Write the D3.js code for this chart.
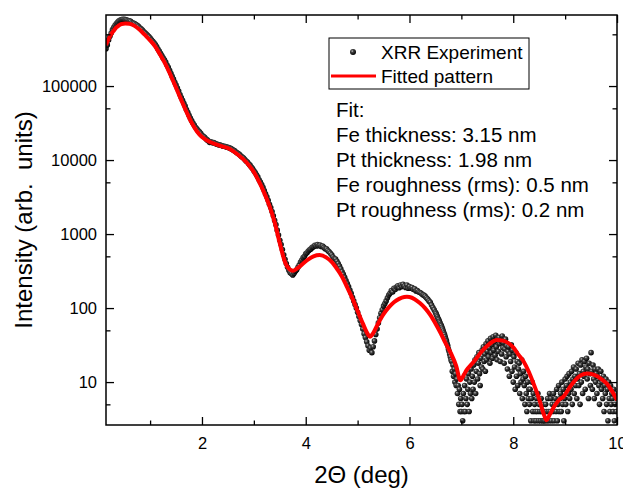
<!DOCTYPE html>
<html lang="en">
<meta charset="utf-8">
<head>
<script src="https://d3js.org/d3.v7.min.js"></script>
<style>
  body { margin: 0; background: #fff; }
  svg text { font-family: "Liberation Sans", Arial, sans-serif; fill: #000; }
</style>
</head>
<body>
<svg id="chart" width="623" height="488"></svg>
<script>
// fitted pattern (2theta in deg, intensity)
var fitX = [0.15,0.2,0.25,0.3,0.35,0.4,0.45,0.52,0.6,0.7,0.8,0.9,1.0,1.1,1.2,1.3,1.4,1.5,1.6,1.7,1.8,1.9,2.0,
  2.1,2.2,2.3,2.4,2.5,2.6,2.7,2.8,2.9,3.0,3.1,3.2,3.3,3.4,3.5,3.6,3.7,3.76,3.85,3.95,4.05,4.15,4.27,4.4,4.5,
  4.6,4.7,4.8,4.9,5.0,5.1,5.2,5.24,5.3,5.4,5.5,5.6,5.7,5.8,5.9,5.95,6.0,6.1,6.2,6.3,6.4,6.5,6.6,6.7,6.8,6.9,
  6.98,7.05,7.1,7.2,7.3,7.4,7.5,7.6,7.68,7.8,7.9,8.0,8.1,8.2,8.3,8.39,8.5,8.6,8.64,8.7,8.8,8.9,8.96,9.1,9.2,
  9.3,9.42,9.55,9.7,9.8,9.9,10.0];
var fitY = [360000,430000,500000,560000,620000,660000,690000,700000,695000,650000,575000,490000,415000,
  340000,260000,195000,138000,95000,65000,45000,32000,24500,20500,18400,17000,16000,15200,14500,13200,11700,
  10200,8600,6900,5100,3600,2400,1450,750,420,330,320,350,400,455,500,520,480,420,340,265,190,135,91,62,44,
  41,46,63,83,102,120,133,141,142,141,132,117,100,81,62,46,33,24.5,16.6,10.6,12.6,14.5,17.5,21.4,26.3,30.9,
  35.1,37,36.3,33.9,29.5,23.5,19,13.8,9.6,5.9,3.5,3.06,3.6,4.8,5.9,6.3,8.7,10.7,12.3,13.1,12.6,11,9.6,7.6,5.7];

// XRR experiment, coarse scan: one reading every 0.025 deg from 0.15 to 6.5 deg
var scan1Start = 0.15, scan1Step = 0.025;
var scan1Y = [
  320000,360000,420000,470000,520000,580000,620000,660000,700000,730000,
  760000,780000,790000,800000,800000,790000,780000,770000,760000,750000,
  718000,708000,698000,679000,664000,640000,611000,592000,572000,543000,
  524000,504000,485000,466000,446000,
  422000,403000,384000,365000,341000,317000,298000,278000,259000,240000,
  226000,211000,192000,179000,163000,149000,135000,124000,112000,103000,
  94000,85400,76800,70000,64300,58600,53800,48000,44200,40300,
  37000,34100,31700,29800,27800,26400,25000,24000,23000,21600,
  20950,20370,19400,18720,18040,17270,17650,17070,17270,16880,
  16490,16300,16100,15910,15710,15520,15330,15230,15040,14840,
  14650,14360,14070,13680,13390,12900,12510,12220,11830,11350,
  10960,10670,10190,9700,9410,8920,8540,8050,7660,7180,
  6790,6300,5920,5430,5040,4660,4270,3880,3490,3200,
  2860,2520,2280,2010,1770,1530,1340,1130,970,825,
  720,620,525,455,400,355,325,300,290,280,
  295,315,
  330,355,380,420,445,480,500,540,560,590,
  615,630,660,675,705,690,720,695,710,680,
  690,660,635,630,600,575,550,525,490,465,
  460,430,400,370,340,310,285,260,235,215,
  195,175,158,140,125,112,100,88,77,68,
  60,52,45,40,35,31,27,29,25,30,
  36,44,52,63,74,85,95,107,
  115,125,138,150,158,172,165,185,178,192,
  200,188,205,195,210,198,190,205,185,195,
  185,190,178,182,170,172,165,162,158,152,
  150,145,138,132,125,120,110,102,95,88];

// fine scan of the low-count tail: one reading every 0.0125 deg from 6.5125 to 10 deg
var scan2Start = 6.5125, scan2Step = 0.0125;
var scan2Y = [
  84,80,76,72,70,66,63,60,
  58,55,52,49,46,44,41,38,
  36,33,31,28,26,24,22,20,
  19,14,17,12,15,10,13,9,
  11,7,9,5,8,4,6,4,
  5,3,7,4,9,4,6,11,
  5,8,13,4,10,7,15,6,
  12,8,17,10,20,7,14,22,
  11,18,25,13,9,21,16,27,
  15,30,19,24,14,33,20,26,
  36,22,29,18,39,25,32,21,
  41,27,35,23,43,30,20,38,
  26,40,33,19,36,24,42,29,
  34,18,28,38,22,31,15,26,
  30,12,24,19,32,14,27,10,
  22,16,8,25,12,19,9,15,
  18,7,13,10,20,6,11,14,
  9,5,12,7,4,10,6,8,
  5,8,3,6,10,4,7,3,
  5,4,3,6,4,7,3,5,
  4,3,6,4,3,5,3,4,
  3,5,4,3,6,4,3,7,
  4,6,3,5,4,7,3,5,
  6,4,8,3,5,9,4,6,
  7,4,10,5,8,3,6,11,
  5,9,12,4,7,13,6,10,
  8,14,5,11,16,7,12,9,
  15,6,11,18,9,13,5,17,
  10,20,7,14,12,19,8,16,
  21,11,15,6,18,13,9,25,
  14,8,17,11,6,15,10,13,
  7,12,15,9,5,11,14,8,
  10,6,12,4,9,7,11,5,
  8,3,10,6,4,9,5,7,
  6,4,8,3,5,7,4,6];

var xMajor = [2, 4, 6, 8, 10], xMinor = [1, 3, 5, 7, 9];
var yMajor = [10, 100, 1000, 10000, 100000], yMinor = [5, 50, 500, 5000, 50000, 500000];
var legendLabels = ["XRR Experiment", "Fitted pattern"];
var fitNotes = ["Fit:", "Fe thickness: 3.15 nm", "Pt thickness: 1.98 nm",
  "Fe roughness (rms): 0.5 nm", "Pt roughness (rms): 0.2 nm"];

var svg = d3.select("#chart"),
  margin = {top: 15, right: 6, bottom: 63, left: 106},
  width = 623 - margin.left - margin.right,
  height = 488 - margin.top - margin.bottom;

var defs = svg.append("defs");
var grad = defs.append("radialGradient").attr("id", "ball")
  .attr("cx", "38%").attr("cy", "35%").attr("r", "65%");
grad.append("stop").attr("offset", "0%").attr("stop-color", "#c8c8c8");
grad.append("stop").attr("offset", "32%").attr("stop-color", "#444");
grad.append("stop").attr("offset", "100%").attr("stop-color", "#000");
defs.append("clipPath").attr("id", "plotclip").append("rect")
  .attr("width", width).attr("height", height);

var g = svg.append("g").attr("transform", "translate(" + margin.left + "," + margin.top + ")");

var x = d3.scaleLinear().domain([0.15, 10]).range([0, width]);
var y = d3.scaleLog().domain([Math.pow(10, 0.42), Math.pow(10, 5.96)]).range([height, 0]);

var expData = scan1Y.map(function(v, i) { return {x: scan1Start + i * scan1Step, y: v}; })
  .concat(scan2Y.map(function(v, i) { return {x: scan2Start + i * scan2Step, y: v}; }));
var fitData = fitX.map(function(v, i) { return {x: v, y: fitY[i]}; });

var plot = g.append("g").attr("clip-path", "url(#plotclip)");

plot.selectAll("circle.exp")
  .data(expData)
  .enter()
  .append("circle")
    .attr("class", "exp")
    .attr("cx", function(d) { return x(d.x); })
    .attr("cy", function(d) { return y(d.y); })
    .attr("r", 2.8)
    .attr("fill", "url(#ball)");

var line = d3.line()
  .x(function(d) { return x(d.x); })
  .y(function(d) { return y(d.y); })
  .curve(d3.curveMonotoneX);

plot.append("path")
  .datum(fitData)
  .attr("d", line)
  .attr("fill", "none")
  .attr("stroke", "#ff0000")
  .attr("stroke-width", 4)
  .attr("stroke-linejoin", "round");

// axes: ticks point inwards on all four sides
function styleAxis(sel) {
  sel.select(".domain").remove();
  sel.selectAll("line").attr("stroke", "#000").attr("stroke-width", 1.3);
  sel.selectAll("text").style("font-size", "16.5px").attr("fill", "#000");
}
g.append("g").attr("transform", "translate(0," + height + ")")
  .call(d3.axisBottom(x).tickValues(xMajor).tickSize(-8).tickPadding(12).tickFormat(d3.format("d")))
  .call(styleAxis);
g.append("g").attr("transform", "translate(0," + height + ")")
  .call(d3.axisBottom(x).tickValues(xMinor).tickSize(-4.5).tickFormat(""))
  .call(styleAxis);
g.append("g")
  .call(d3.axisTop(x).tickValues(xMajor).tickSize(-8).tickFormat(""))
  .call(styleAxis);
g.append("g")
  .call(d3.axisTop(x).tickValues(xMinor).tickSize(-4.5).tickFormat(""))
  .call(styleAxis);
g.append("g")
  .call(d3.axisLeft(y).tickValues(yMajor).tickSize(-8).tickPadding(9).tickFormat(d3.format("d")))
  .call(styleAxis);
g.append("g")
  .call(d3.axisLeft(y).tickValues(yMinor).tickSize(-4.5).tickFormat(""))
  .call(styleAxis);
g.append("g").attr("transform", "translate(" + width + ",0)")
  .call(d3.axisRight(y).tickValues(yMajor).tickSize(-8).tickFormat(""))
  .call(styleAxis);
g.append("g").attr("transform", "translate(" + width + ",0)")
  .call(d3.axisRight(y).tickValues(yMinor).tickSize(-4.5).tickFormat(""))
  .call(styleAxis);

g.append("rect")
  .attr("width", width).attr("height", height)
  .attr("fill", "none").attr("stroke", "#000").attr("stroke-width", 1.5);

// axis titles
svg.append("text")
  .attr("x", margin.left + width / 2).attr("y", 483)
  .attr("text-anchor", "middle")
  .style("font-size", "24px")
  .text("2\u0398 (deg)");
svg.append("text")
  .attr("transform", "translate(32," + (margin.top + height / 2) + ") rotate(-90)")
  .attr("text-anchor", "middle")
  .style("font-size", "24px")
  .style("white-space", "pre")
  .text("Intensity (arb.  units)");

// legend
var leg = svg.append("g");
leg.append("rect")
  .attr("x", 329).attr("y", 38).attr("width", 200).attr("height", 51)
  .attr("fill", "#fff").attr("stroke", "#000").attr("stroke-width", 1);
leg.append("circle").attr("cx", 353).attr("cy", 52).attr("r", 3).attr("fill", "url(#ball)");
leg.append("line").attr("x1", 331).attr("x2", 376).attr("y1", 76).attr("y2", 76)
  .attr("stroke", "#ff0000").attr("stroke-width", 3);
leg.selectAll("text.leg")
  .data(legendLabels)
  .enter()
  .append("text")
    .attr("class", "leg")
    .attr("x", 381)
    .attr("y", function(d, i) { return 58.5 + i * 24.5; })
    .style("font-size", "19px")
    .text(function(d) { return d; });

svg.selectAll("text.note")
  .data(fitNotes)
  .enter()
  .append("text")
    .attr("class", "note")
    .attr("x", 336)
    .attr("y", function(d, i) { return 117 + i * 25; })
    .style("font-size", "20.5px")
    .text(function(d) { return d; });
</script>
</body>
</html>
